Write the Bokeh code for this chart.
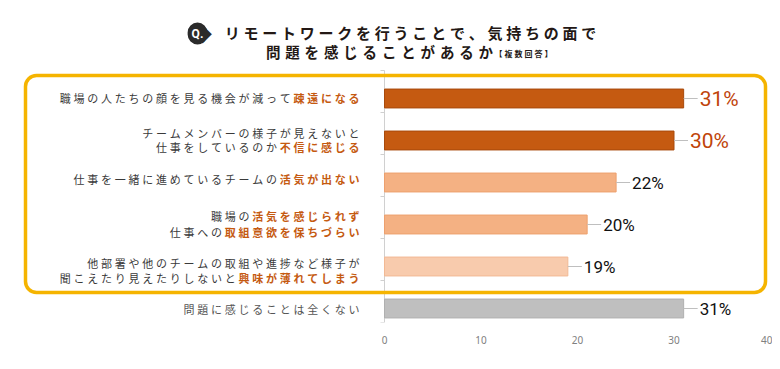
from bokeh.plotting import figure
from bokeh.models import ColumnDataSource, LabelSet, Label, BoxAnnotation, Range1d, FixedTicker
from bokeh.core.properties import value
from bokeh.embed import file_html
from bokeh.resources import INLINE

# ---------------- data ----------------
categories = [
    "職場の人たちの顔を見る機会が減って疎遠になる",
    "チームメンバーの様子が見えないと\n仕事をしているのか不信に感じる",
    "仕事を一緒に進めているチームの活気が出ない",
    "職場の活気を感じられず\n仕事への取組意欲を保ちづらい",
    "他部署や他のチームの取組や進捗など様子が\n聞こえたり見えたりしないと興味が薄れてしまう",
    "問題に感じることは全くない",
]
highlights = [
    ["疎遠になる"],
    ["不信に感じる"],
    ["活気が出ない"],
    ["活気を感じられず", "取組意欲を保ちづらい"],
    ["興味が薄れてしまう"],
    [],
]
values = [31, 30, 24, 21, 19, 31]            # bar lengths as drawn
value_labels = ["31%", "30%", "22%", "20%", "19%", "31%"]
bar_colors = ["#C55A11", "#C55A11", "#F4B183", "#F4B183", "#F8CBAD", "#BFBFBF"]
bar_line_colors = ["#A84A0C", "#A84A0C", "#EDA06E", "#EDA06E", "#F2B994", "#B0B0B0"]
value_label_colors = ["#C0440A", "#C0440A", "#111111", "#111111", "#111111", "#111111"]
value_label_sizes = ["21px", "21px", "17px", "17px", "17px", "17px"]
x_ticks = [0, 10, 20, 30, 40]
title_line1 = "リモートワークを行うことで、気持ちの面で"
title_line2 = "問題を感じることがあるか"
title_note = "【複数回答】"

# ---------------- layout (canvas pixels) ----------------
W, H = 772, 361
AX_X, AX_X40 = 384, 770          # canvas x of value 0 and value 40
AX_TOP, AX_BOTTOM = 70, 322      # extent of the value axis line
ROW0, ROW_STEP = 98, 42
X_MAX = 40
px_per_unit = (AX_X40 - AX_X) / X_MAX
JP = "Noto Sans CJK JP"
SP = "\u2005"           # four-per-em space used as letter spacing
LBL_FS = 11.0
LBL_ANCHOR = -25        # right edge of category labels relative to the axis (px)
row_line_dy = [[-1], [-8, 6], [-4], [-9, 7], [-4, 11], [0]]


def spaced(s):
    return SP.join(s)


n = len(categories)
# data range so that the plot frame covers the whole canvas above the x axis
x_start = -AX_X / px_per_unit
x_end = (W - AX_X) / px_per_unit
y_top_frame = -(ROW0 - 0) / ROW_STEP
y_bot = (AX_BOTTOM - ROW0) / ROW_STEP
y_axis_top = -(ROW0 - AX_TOP) / ROW_STEP

p = figure(width=W, height=H, output_backend="svg", toolbar_location=None,
           x_range=Range1d(x_start, x_end), y_range=Range1d(y_bot, y_top_frame),
           y_axis_location=None,
           min_border_left=0, min_border_right=0,
           min_border_top=0, min_border_bottom=H - AX_BOTTOM)
p.outline_line_color = None
p.xgrid.visible = False
p.ygrid.visible = False
p.background_fill_color = "white"
p.border_fill_color = "white"

# x axis
p.xaxis.ticker = FixedTicker(ticks=x_ticks)
p.xaxis.axis_line_color = None
p.xaxis.major_tick_line_color = None
p.xaxis.minor_tick_line_color = None
p.xaxis.major_label_standoff = 7
p.xaxis.major_label_text_font = "Noto Sans"
p.xaxis.major_label_text_font_size = "10px"
p.xaxis.major_label_text_color = "#808080"

# category axis line at value 0 with small outward ticks at row boundaries
tick_y = [y_axis_top + k for k in range(n + 1)]
p.segment(x0=[0], x1=[0], y0=[y_axis_top], y1=[y_bot], line_color="#D0D0D0", line_width=1)
p.segment(x0=[0] * len(tick_y), x1=[-4 / px_per_unit] * len(tick_y), y0=tick_y, y1=tick_y,
          line_color="#D0D0D0", line_width=1)

rows = list(range(n))
bar_src = ColumnDataSource(dict(
    y=rows, v=values, lbl=value_labels, col=bar_colors, lcol=bar_line_colors,
    tcol=value_label_colors, tsize=value_label_sizes,
    lead=[v + 14 / px_per_unit for v in values],
))
p.hbar(y="y", left=0, right="v", height=0.45, source=bar_src,
       fill_color="col", line_color="lcol", line_width=1)
p.segment(x0="v", x1="lead", y0="y", y1="y", source=bar_src,
          line_color="#BFBFBF", line_width=1)
p.text(x="v", y="y", text="lbl", source=bar_src, x_offset=16,
       text_color="tcol", text_font_size="tsize", text_baseline="middle",
       text_align="left", text_font=value("Roboto"))

# category labels, split into plain + highlighted parts
sp_w = LBL_FS / 4
ly, lx_off, ly_off, ltxt, lcol, lsty = [], [], [], [], [], []
for i, cat in enumerate(categories):
    for j, line in enumerate(cat.split("\n")):
        em = ""
        for h in highlights[i]:
            if line.endswith(h):
                em = h
        plain = line[: len(line) - len(em)]
        dy = row_line_dy[i][j]
        if em:
            ly.append(i); lx_off.append(LBL_ANCHOR); ly_off.append(-dy)
            ltxt.append(spaced(em)); lcol.append("#C55A11"); lsty.append("bold")
        if plain:
            em_w = (len(em) * LBL_FS + len(em) * sp_w) if em else 0
            ly.append(i); lx_off.append(LBL_ANCHOR - em_w); ly_off.append(-dy)
            ltxt.append(spaced(plain)); lsty.append("normal")
            lcol.append("#555555" if i == n - 1 else "#3A3A3A")
lab_src = ColumnDataSource(dict(x=[0] * len(ly), y=ly, xo=lx_off, yo=ly_off,
                                t=ltxt, c=lcol, s=lsty))
p.add_layout(LabelSet(x="x", y="y", text="t", source=lab_src, x_offset="xo", y_offset="yo",
                      text_align="right", text_baseline="middle", text_color="c",
                      text_font_style="s",
                      text_font=value(JP), text_font_size=f"{LBL_FS}px"))

# yellow highlight frame
p.add_layout(BoxAnnotation(left=25, right=765, top=75, bottom=292,
                           left_units="canvas", right_units="canvas",
                           top_units="canvas", bottom_units="canvas",
                           fill_alpha=0, line_color="#F5B400", line_alpha=1,
                           line_width=3.5, border_radius=11))

# title: "Q." badge (drop shape pointing right) + two lines
p.add_layout(Label(x=202, y=33, x_units="canvas", y_units="canvas", text="◆",
                   text_align="center", text_baseline="middle", text_color="#2B2B2B",
                   text_font=JP, text_font_size="19px"))
p.add_layout(Label(x=197, y=33, x_units="canvas", y_units="canvas", text="Q.",
                   text_align="center", text_baseline="middle", text_color="white",
                   text_font="Roboto", text_font_style="bold", text_font_size="12px",
                   background_fill_color="#2B2B2B", border_radius=11, padding=4))
p.add_layout(Label(x=410, y=32, x_units="canvas", y_units="canvas",
                   text=spaced(title_line1), text_align="center", text_baseline="middle",
                   text_color="#231815", text_font=JP, text_font_style="bold",
                   text_font_size="15px"))
p.add_layout(Label(x=379, y=51, x_units="canvas", y_units="canvas",
                   text="\u2004".join(title_line2), text_align="center", text_baseline="middle",
                   text_color="#231815", text_font=JP, text_font_style="bold",
                   text_font_size="14.5px"))
p.add_layout(Label(x=523, y=53, x_units="canvas", y_units="canvas",
                   text=spaced(title_note), text_align="center", text_baseline="middle",
                   text_color="#231815", text_font=JP, text_font_style="bold",
                   text_font_size="8px"))

open("out.html", "w").write(file_html(p, INLINE))
